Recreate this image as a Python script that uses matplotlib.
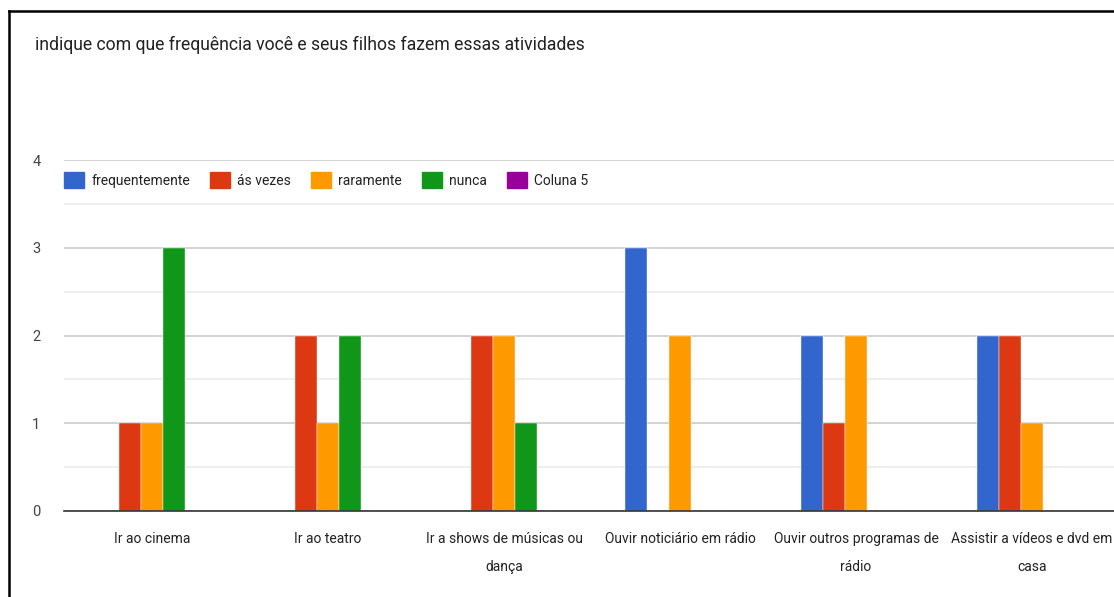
import matplotlib
matplotlib.use("Agg")
import matplotlib.pyplot as plt
from matplotlib.patches import Patch
from matplotlib.lines import Line2D
import numpy as np

plt.rcParams["font.family"] = ["Roboto", "DejaVu Sans"]

# Respostas por atividade
atividades = [
    "Ir ao cinema",
    "Ir ao teatro",
    "Ir a shows de músicas ou\ndança",
    "Ouvir noticiário em rádio",
    "Ouvir outros programas de\nrádio",
    "Assistir a vídeos e dvd em\ncasa",
]
series = ["frequentemente", "ás vezes", "raramente", "nunca", "Coluna 5"]
frequentemente = [0, 0, 0, 3, 2, 2]
as_vezes = [1, 2, 2, 0, 1, 2]
raramente = [1, 1, 2, 2, 2, 1]
nunca = [3, 2, 1, 0, 0, 0]
coluna5 = [0, 0, 0, 0, 0, 0]
cores = ["#3366CC", "#DC3912", "#FF9900", "#109618", "#990099"]

valores = [frequentemente, as_vezes, raramente, nunca, coluna5]

W, H = 1114, 597
fig = plt.figure(figsize=(W / 100, H / 100), dpi=100)
ax = fig.add_axes([64 / W, (H - 511) / H, 1056 / W, 351 / H])

x = np.arange(len(atividades)) + 0.5
passo = 0.125
for k, (vals, cor) in enumerate(zip(valores, cores)):
    ax.bar(x + (k - 2) * passo, vals, width=0.12, color=cor, zorder=3,
           edgecolor="white", linewidth=0.3)

ax.set_xlim(0, 6)
ax.set_ylim(0, 4)
ax.set_yticks([0, 1, 2, 3, 4])
ax.set_yticks([0.5, 1.5, 2.5, 3.5], minor=True)
ax.grid(axis="y", which="major", color="#cccccc", linewidth=1.2, zorder=0)
ax.grid(axis="y", which="minor", color="#ebebeb", linewidth=1.2, zorder=0)
ax.tick_params(axis="y", which="both", length=0, pad=17, labelsize=10.5, labelcolor="#444444")
for s in ["top", "right", "left"]:
    ax.spines[s].set_visible(False)
ax.spines["bottom"].set_color("#333333")
ax.spines["bottom"].set_linewidth(1.2)
ax.spines["bottom"].set_zorder(4)

ax.set_xticks(x)
ax.set_xticklabels(atividades, fontsize=10, color="#222222", linespacing=2.25, va="top")
ax.tick_params(axis="x", length=0, pad=15)

handles = [Patch(facecolor=c, edgecolor=c) for c in cores]
ax.legend(handles, series, loc="upper left", bbox_to_anchor=(0.0, 0.965), ncol=5,
          frameon=False, fontsize=10, handlelength=1.45, handleheight=1.4,
          handletextpad=0.5, columnspacing=1.45, borderpad=0, borderaxespad=0,
          labelcolor="#222222")

fig.text(35 / W, 1 - 45 / H, "indique com que frequência você e seus filhos fazem essas atividades",
         fontsize=12.7, color="#222222", va="center", ha="left")

# moldura
fig.add_artist(Line2D([9 / W, 9 / W], [0, 1 - 11 / H], color="black", linewidth=1.8))
fig.add_artist(Line2D([9 / W, 1], [1 - 11 / H, 1 - 11 / H], color="black", linewidth=1.8))

fig.savefig("out.png", dpi=100)
